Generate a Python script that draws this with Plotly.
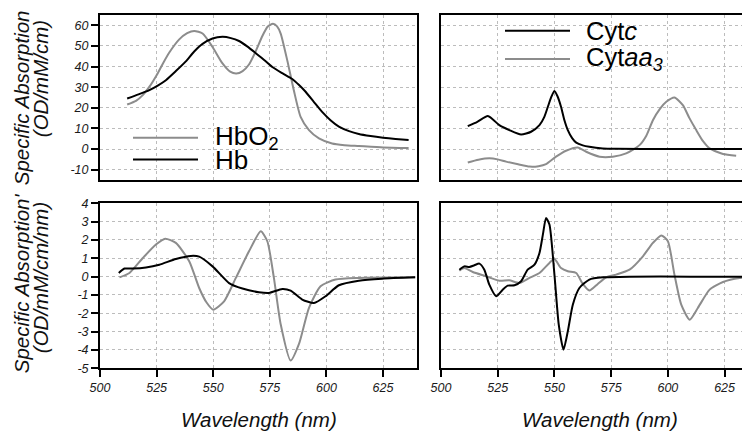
import plotly.graph_objects as go

# ---------------- data ----------------
hbo2_wl = [512, 515.9, 519, 522, 525, 527.8, 530.6, 535, 538.5, 541.6, 545.3, 549.7, 554.1,
           557.5, 560.2, 563, 565.8, 568.8, 571.7, 574, 576.4, 578.2, 579.8, 582.7, 585.6,
           588.6, 592.3, 596.7, 602.5, 608, 614.3, 625, 636.3]
hbo2 = [21.6, 23.4, 26.3, 30.5, 35.8, 41.5, 46.8, 53.2, 56.2, 57.3, 56.0, 49.5, 41.5,
        37.5, 36.6, 37.8, 41.0, 47.5, 54.8, 59.3, 60.8, 59.5, 56.0, 43.0, 28.5,
        15.6, 9.2, 5.2, 2.7, 1.9, 1.5, 0.8, 0.5]

hb_wl = [512, 517, 521.8, 525.5, 529.1, 533.5, 537.9, 541.5, 545.3, 549.7, 554.1, 557.8,
         561.4, 565, 568.8, 572.5, 576.1, 580.5, 584.9, 587.8, 590.8, 594.5, 598.1, 601.8,
         605.5, 610, 614.3, 619.5, 625, 630.5, 636.3]
hb = [24.5, 26.5, 28.6, 30.8, 33.4, 37.8, 42.5, 47.2, 51.0, 53.6, 54.4, 53.8,
      52.4, 49.8, 46.5, 43.2, 39.8, 36.8, 34.0, 31.2, 27.8, 22.8, 18.0, 14.0,
      10.9, 8.7, 7.3, 6.3, 5.5, 4.9, 4.4]

cytc_wl = [511.8, 516, 520.6, 523, 525.7, 530.1, 535.3, 539.7, 543.4, 545.5, 547.1, 548.7,
           550, 551.4, 552.9, 554.4, 555.9, 557.8, 559.6, 562.5, 565.4, 571.3, 577.2, 600,
           620, 640]
cytc = [11.1, 13.2, 16.0, 14.2, 11.6, 9.2, 7.0, 8.4, 11.6, 15.5, 20.5, 25.5,
        28.2, 25.5, 20.5, 14.0, 9.2, 5.3, 3.1, 1.8, 1.1, 0.3, 0.1, 0.0,
        0.0, 0.0]

cytaa3_wl = [511.8, 516.5, 521.3, 525, 528.7, 534, 539, 543, 546.3, 550.7, 555.1, 560.3,
             564, 569.9, 575.7, 581.6, 587.5, 590.5, 593.4, 596.5, 599.3, 602.9, 606.6,
             609.5, 612.5, 615.5, 618.4, 624.3, 630.1]
cytaa3 = [-6.5, -5.2, -4.5, -5.0, -6.1, -7.4, -8.5, -8.3, -7.3, -3.7, -0.8, 0.8,
          -1.3, -3.7, -3.7, -2.1, 1.9, 6.5, 14.0, 19.5, 22.9, 25.0, 21.3,
          15.0, 9.2, 3.8, 0.3, -2.4, -3.2]

dhbo2_wl = [508.6, 513, 518.8, 524.7, 528.8, 533.5, 539.4, 543.8, 547, 550, 554.8, 560,
            565.8, 571, 573.9, 576.8, 579.8, 584.2, 587.8, 592.3, 597.4, 604, 614.3, 639.2]
dhbo2 = [-0.04, 0.2, 1.0, 1.75, 2.07, 1.84, 0.84, -0.62, -1.4, -1.8, -1.35, -0.07,
         1.38, 2.47, 1.93, -0.07, -2.6, -4.58, -3.7, -1.7, -0.53, -0.16, -0.07, -0.04]

dhb_wl = [508.3, 510.8, 514.4, 520.3, 526.2, 533.5, 540.1, 543.8, 549.7, 557, 562.9,
          570.2, 574.6, 580.5, 584.2, 589.3, 594.5, 599.6, 605.5, 614.3, 624.6, 639.2]
dhb = [0.2, 0.44, 0.44, 0.5, 0.65, 0.96, 1.13, 1.09, 0.56, -0.35, -0.65,
       -0.85, -0.89, -0.67, -0.76, -1.25, -1.44, -1.07, -0.47, -0.22, -0.11, -0.04]

dcytc_wl = [508.1, 510.3, 512.5, 514.7, 516.9, 519.1, 521.3, 524.3, 527.2, 529.4, 532.4,
            535.3, 538.2, 541.2, 543.4, 544.9, 546.3, 547.8, 550, 551.9, 554, 555.9,
            558.1, 561, 565.4, 571.3, 583.1, 610, 640]
dcytc = [0.38, 0.56, 0.53, 0.62, 0.71, 0.38, -0.44, -1.07, -0.71, -0.49, -0.47,
         -0.25, 0.38, 0.65, 1.29, 2.29, 3.2, 2.84, 0.11, -2.62, -3.98, -2.98,
         -1.53, -0.62, -0.16, -0.04, 0.0, 0.0, 0.0]

dcytaa3_wl = [508.1, 510.3, 514, 519.9, 525.7, 530.1, 534.6, 539, 543.4, 547.8, 550,
              552.9, 555.9, 559.6, 562.5, 565.4, 569.1, 572.8, 577.2, 583.1, 589, 593.4,
              597.1, 600, 602.9, 605.9, 609.6, 613.2, 618.4, 624.3, 631.6, 640]
dcytaa3 = [0.33, 0.47, 0.25, 0.02, -0.22, -0.2, -0.35, -0.07, 0.2, 0.75, 0.96,
           0.47, 0.29, 0.2, -0.4, -0.76, -0.4, -0.04, 0.11, 0.38, 1.11, 1.84,
           2.25, 1.93, 0.11, -1.53, -2.35, -1.71, -0.71, -0.29, -0.07, 0.0]

x_ticks = [500, 525, 550, 575, 600, 625]
x_ticktext = ["500", "525", "550", "575", "600", "625"]
top_ticks = [-10, 0, 10, 20, 30, 40, 50, 60]
top_ticktext = ["-10", "0", "10", "20", "30", "40", "50", "60"]
bot_ticks = [-5, -4, -3, -2, -1, 0, 1, 2, 3, 4]
bot_ticktext = ["-5", "-4", "-3", "-2", "-1", "0", "1", "2", "3", "4"]

# ---------------- styling ----------------
W, H = 750, 431
OFF = 8  # the page body margin shifts the figure by 8px
BLACK = "#000000"
GRAY = "#8c8c8c"
GRID = "#bcbcbc"
FONT = "Liberation Sans, Arial, sans-serif"

def px(x):
    return (x - OFF) / W

def py(y):
    return 1 - (y - OFF) / H

fig = go.Figure()

def add(xv, yv, color, xa, ya):
    fig.add_trace(go.Scatter(x=xv, y=yv, mode="lines", xaxis=xa, yaxis=ya,
                             line=dict(color=color, width=2, shape="spline", smoothing=0.6),
                             showlegend=False, hoverinfo="skip"))

# top-left
add(hbo2_wl, hbo2, GRAY, "x3", "y3")
add(hb_wl, hb, BLACK, "x3", "y3")
# top-right
add(cytaa3_wl, cytaa3, GRAY, "x4", "y4")
add(cytc_wl, cytc, BLACK, "x4", "y4")
# bottom-left
add(dhbo2_wl, dhbo2, GRAY, "x", "y")
add(dhb_wl, dhb, BLACK, "x", "y")
# bottom-right
add(dcytaa3_wl, dcytaa3, GRAY, "x2", "y2")
add(dcytc_wl, dcytc, BLACK, "x2", "y2")

tickfont = dict(family=FONT, size=12.5, color="#1a1a1a", style="italic")

left_dom = [px(100), px(417)]
right_dom = [px(441), px(750)]
top_dom = [py(180), py(15)]
bot_dom = [py(368.3), py(203.3)]

def xax(dom, rng, anchor, labels):
    return dict(domain=dom, range=rng, anchor=anchor, tickvals=x_ticks, ticktext=x_ticktext,
                showticklabels=labels, ticks="outside" if labels else "", ticklen=7,
                tickwidth=1.5, tickcolor=BLACK, tickfont=tickfont, automargin=False,
                showline=True, linecolor=BLACK, linewidth=2, mirror=True,
                showgrid=True, gridcolor=GRID, griddash="dot", gridwidth=1, zeroline=False)

def yax(dom, rng, anchor, tv, tt, labels, mirror):
    return dict(domain=dom, range=rng, anchor=anchor, tickvals=tv, ticktext=tt,
                showticklabels=labels, ticks="outside" if labels else "", ticklen=7,
                tickwidth=1.5, tickcolor=BLACK, tickfont=tickfont, automargin=False,
                showline=True, linecolor=BLACK, linewidth=2, mirror=mirror,
                showgrid=True, gridcolor=GRID, griddash="dot", gridwidth=1, zeroline=False)

fig.update_layout(
    template="none",
    width=W, height=H, margin=dict(l=0, r=0, t=0, b=0, pad=0, autoexpand=False),
    paper_bgcolor="white", plot_bgcolor="white",
    font=dict(family=FONT),
    xaxis=xax(left_dom, [500, 640], "y", True),
    yaxis=yax(bot_dom, [-5, 4], "x", bot_ticks, bot_ticktext, True, True),
    xaxis2=xax(right_dom, [500, 636.2], "y2", True),
    yaxis2=yax(bot_dom, [-5, 4], "x2", bot_ticks, bot_ticktext, False, False),
    xaxis3=xax(left_dom, [500, 640], "y3", False),
    yaxis3=yax(top_dom, [-15, 65], "x3", top_ticks, top_ticktext, True, True),
    xaxis4=xax(right_dom, [500, 636.2], "y4", False),
    yaxis4=yax(top_dom, [-15, 65], "x4", top_ticks, top_ticktext, False, False),
)

# ---------------- legends (drawn as decoration) ----------------
legend_items = [
    (133, 198, 137.7, GRAY, "HbO<sub>2</sub>", 213, 26),
    (133, 198, 159.5, BLACK, "Hb", 213, 26),
    (505, 570, 30.7, BLACK, "Cyt<i>c</i>", 584, 25.5),
    (505, 570, 59.0, GRAY, "Cyt<i>aa</i><sub><i>3</i></sub>", 584, 25.5),
]
for x0, x1, yy, col, txt, tx, fs in legend_items:
    fig.add_shape(type="line", xref="paper", yref="paper", x0=px(x0), x1=px(x1),
                  y0=py(yy), y1=py(yy), line=dict(color=col, width=2))
    fig.add_annotation(xref="paper", yref="paper", x=px(tx), y=py(yy), xanchor="left",
                       yanchor="middle", text=txt, showarrow=False,
                       font=dict(family=FONT, size=fs, color=BLACK))

# ---------------- axis titles ----------------
tfont = dict(family=FONT, size=20.5, color="#111", style="italic")
titles = [
    ("Specific Absorption", 21.7, 97.5, -90),
    ("(OD/mM/cm)", 40.7, 78.5, -90),
    ("Specific Absorption'", 21.7, 283.5, -90),
    ("(OD/mM/cm/nm)", 40.7, 277.5, -90),
    ("Wavelength (nm)", 258.5, 419, 0),
    ("Wavelength (nm)", 600, 419, 0),
]
for txt, x, y, ang in titles:
    fig.add_annotation(xref="paper", yref="paper", x=px(x), y=py(y), xanchor="center",
                       yanchor="middle", text=txt, showarrow=False, textangle=ang, font=tfont)

fig.write_html("out.html")
